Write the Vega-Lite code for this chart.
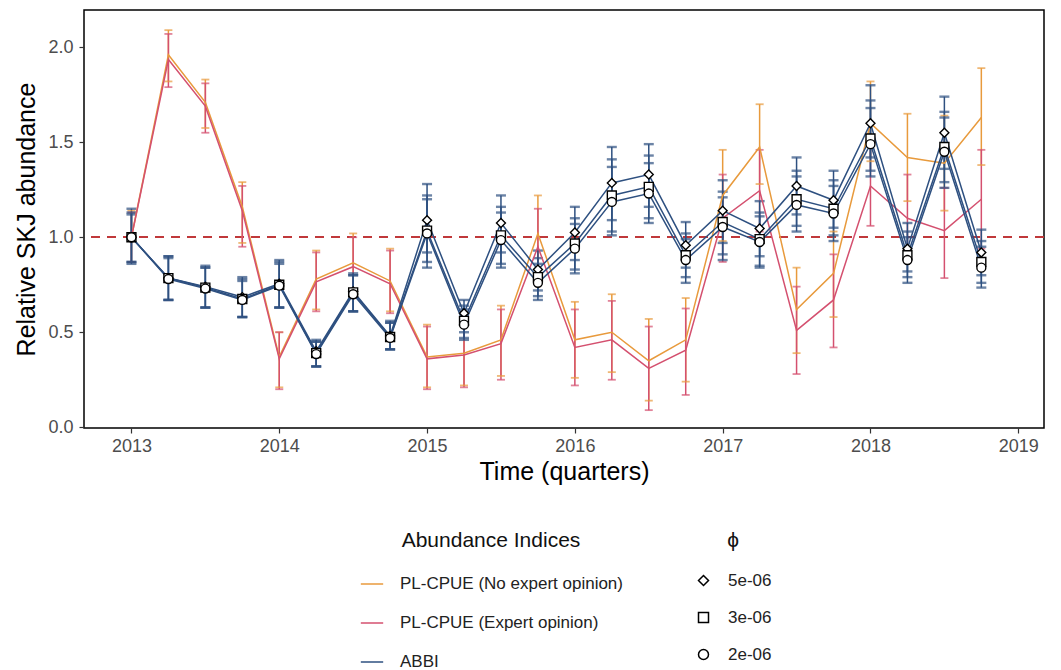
{
  "$schema": "https://vega.github.io/schema/vega-lite/v6.json",
  "width": 960,
  "height": 418,
  "autosize": {"type": "none"},
  "padding": {"left": 84, "top": 10, "right": 17, "bottom": 242},
  "background": "white",
  "config": {
    "font": "Liberation Sans",
    "view": {"stroke": "black", "strokeWidth": 1.5},
    "axis": {"grid": false, "domain": false, "tickColor": "#333333", "tickSize": 5, "tickWidth": 1.2, "labelColor": "#4D4D4D", "labelFontSize": 18, "titleColor": "black", "titleFontSize": 25, "titleFontWeight": "normal", "labelFont": "Liberation Sans", "titleFont": "Liberation Sans"},
    "legend": {"labelFont": "Liberation Sans", "titleFont": "Liberation Sans", "labelFontSize": 17, "titleFontSize": 21, "titleFontWeight": "normal", "labelColor": "#222222", "titleColor": "#111111", "labelLimit": 0}
  },
  "data": {"values": [
    {"t": 2013.0, "s": "PL-CPUE (No expert opinion)", "phi": null, "v": 1.0, "lo": 0.87, "hi": 1.14},
    {"t": 2013.25, "s": "PL-CPUE (No expert opinion)", "phi": null, "v": 1.96, "lo": 1.82, "hi": 2.09},
    {"t": 2013.5, "s": "PL-CPUE (No expert opinion)", "phi": null, "v": 1.71, "lo": 1.575, "hi": 1.83},
    {"t": 2013.75, "s": "PL-CPUE (No expert opinion)", "phi": null, "v": 1.16, "lo": 0.97, "hi": 1.29},
    {"t": 2014.0, "s": "PL-CPUE (No expert opinion)", "phi": null, "v": 0.37, "lo": 0.21, "hi": 0.5},
    {"t": 2014.25, "s": "PL-CPUE (No expert opinion)", "phi": null, "v": 0.78, "lo": 0.62, "hi": 0.93},
    {"t": 2014.5, "s": "PL-CPUE (No expert opinion)", "phi": null, "v": 0.865, "lo": 0.7, "hi": 1.02},
    {"t": 2014.75, "s": "PL-CPUE (No expert opinion)", "phi": null, "v": 0.77, "lo": 0.61, "hi": 0.94},
    {"t": 2015.0, "s": "PL-CPUE (No expert opinion)", "phi": null, "v": 0.37, "lo": 0.21, "hi": 0.54},
    {"t": 2015.25, "s": "PL-CPUE (No expert opinion)", "phi": null, "v": 0.39, "lo": 0.22, "hi": 0.56},
    {"t": 2015.5, "s": "PL-CPUE (No expert opinion)", "phi": null, "v": 0.46, "lo": 0.27, "hi": 0.64},
    {"t": 2015.75, "s": "PL-CPUE (No expert opinion)", "phi": null, "v": 1.02, "lo": 0.8, "hi": 1.22},
    {"t": 2016.0, "s": "PL-CPUE (No expert opinion)", "phi": null, "v": 0.46, "lo": 0.26, "hi": 0.66},
    {"t": 2016.25, "s": "PL-CPUE (No expert opinion)", "phi": null, "v": 0.5, "lo": 0.29, "hi": 0.7},
    {"t": 2016.5, "s": "PL-CPUE (No expert opinion)", "phi": null, "v": 0.35, "lo": 0.14, "hi": 0.57},
    {"t": 2016.75, "s": "PL-CPUE (No expert opinion)", "phi": null, "v": 0.46, "lo": 0.24, "hi": 0.68},
    {"t": 2017.0, "s": "PL-CPUE (No expert opinion)", "phi": null, "v": 1.22, "lo": 0.98, "hi": 1.46},
    {"t": 2017.25, "s": "PL-CPUE (No expert opinion)", "phi": null, "v": 1.475, "lo": 1.28, "hi": 1.7},
    {"t": 2017.5, "s": "PL-CPUE (No expert opinion)", "phi": null, "v": 0.62, "lo": 0.39, "hi": 0.84},
    {"t": 2017.75, "s": "PL-CPUE (No expert opinion)", "phi": null, "v": 0.81, "lo": 0.58, "hi": 1.03},
    {"t": 2018.0, "s": "PL-CPUE (No expert opinion)", "phi": null, "v": 1.6, "lo": 1.4, "hi": 1.82},
    {"t": 2018.25, "s": "PL-CPUE (No expert opinion)", "phi": null, "v": 1.42, "lo": 1.19, "hi": 1.65},
    {"t": 2018.5, "s": "PL-CPUE (No expert opinion)", "phi": null, "v": 1.39, "lo": 1.14, "hi": 1.64},
    {"t": 2018.75, "s": "PL-CPUE (No expert opinion)", "phi": null, "v": 1.63, "lo": 1.38, "hi": 1.89},
    {"t": 2013.0, "s": "PL-CPUE (Expert opinion)", "phi": null, "v": 1.0, "lo": 0.87, "hi": 1.13},
    {"t": 2013.25, "s": "PL-CPUE (Expert opinion)", "phi": null, "v": 1.935, "lo": 1.79, "hi": 2.07},
    {"t": 2013.5, "s": "PL-CPUE (Expert opinion)", "phi": null, "v": 1.69, "lo": 1.55, "hi": 1.81},
    {"t": 2013.75, "s": "PL-CPUE (Expert opinion)", "phi": null, "v": 1.14, "lo": 0.95, "hi": 1.27},
    {"t": 2014.0, "s": "PL-CPUE (Expert opinion)", "phi": null, "v": 0.36, "lo": 0.2, "hi": 0.5},
    {"t": 2014.25, "s": "PL-CPUE (Expert opinion)", "phi": null, "v": 0.765, "lo": 0.61, "hi": 0.92},
    {"t": 2014.5, "s": "PL-CPUE (Expert opinion)", "phi": null, "v": 0.845, "lo": 0.68, "hi": 1.0},
    {"t": 2014.75, "s": "PL-CPUE (Expert opinion)", "phi": null, "v": 0.755, "lo": 0.6, "hi": 0.93},
    {"t": 2015.0, "s": "PL-CPUE (Expert opinion)", "phi": null, "v": 0.36, "lo": 0.2, "hi": 0.53},
    {"t": 2015.25, "s": "PL-CPUE (Expert opinion)", "phi": null, "v": 0.38, "lo": 0.21, "hi": 0.55},
    {"t": 2015.5, "s": "PL-CPUE (Expert opinion)", "phi": null, "v": 0.44, "lo": 0.25, "hi": 0.62},
    {"t": 2015.75, "s": "PL-CPUE (Expert opinion)", "phi": null, "v": 0.95, "lo": 0.75, "hi": 1.15},
    {"t": 2016.0, "s": "PL-CPUE (Expert opinion)", "phi": null, "v": 0.42, "lo": 0.22, "hi": 0.62},
    {"t": 2016.25, "s": "PL-CPUE (Expert opinion)", "phi": null, "v": 0.46, "lo": 0.25, "hi": 0.665},
    {"t": 2016.5, "s": "PL-CPUE (Expert opinion)", "phi": null, "v": 0.31, "lo": 0.09, "hi": 0.53},
    {"t": 2016.75, "s": "PL-CPUE (Expert opinion)", "phi": null, "v": 0.405, "lo": 0.17, "hi": 0.625},
    {"t": 2017.0, "s": "PL-CPUE (Expert opinion)", "phi": null, "v": 1.1, "lo": 0.87, "hi": 1.33},
    {"t": 2017.25, "s": "PL-CPUE (Expert opinion)", "phi": null, "v": 1.245, "lo": 1.03, "hi": 1.46},
    {"t": 2017.5, "s": "PL-CPUE (Expert opinion)", "phi": null, "v": 0.51, "lo": 0.28, "hi": 0.74},
    {"t": 2017.75, "s": "PL-CPUE (Expert opinion)", "phi": null, "v": 0.67, "lo": 0.42, "hi": 0.91},
    {"t": 2018.0, "s": "PL-CPUE (Expert opinion)", "phi": null, "v": 1.27, "lo": 1.06, "hi": 1.49},
    {"t": 2018.25, "s": "PL-CPUE (Expert opinion)", "phi": null, "v": 1.1, "lo": 0.87, "hi": 1.33},
    {"t": 2018.5, "s": "PL-CPUE (Expert opinion)", "phi": null, "v": 1.035, "lo": 0.785, "hi": 1.26},
    {"t": 2018.75, "s": "PL-CPUE (Expert opinion)", "phi": null, "v": 1.2, "lo": 0.94, "hi": 1.46},
    {"t": 2013.0, "s": "ABBI", "phi": "5e-06", "v": 1.0, "lo": 0.86, "hi": 1.15},
    {"t": 2013.25, "s": "ABBI", "phi": "5e-06", "v": 0.785, "lo": 0.67, "hi": 0.9},
    {"t": 2013.5, "s": "ABBI", "phi": "5e-06", "v": 0.74, "lo": 0.63, "hi": 0.85},
    {"t": 2013.75, "s": "ABBI", "phi": "5e-06", "v": 0.685, "lo": 0.58, "hi": 0.79},
    {"t": 2014.0, "s": "ABBI", "phi": "5e-06", "v": 0.755, "lo": 0.63, "hi": 0.88},
    {"t": 2014.25, "s": "ABBI", "phi": "5e-06", "v": 0.4, "lo": 0.32, "hi": 0.46},
    {"t": 2014.5, "s": "ABBI", "phi": "5e-06", "v": 0.715, "lo": 0.61, "hi": 0.81},
    {"t": 2014.75, "s": "ABBI", "phi": "5e-06", "v": 0.48, "lo": 0.41, "hi": 0.56},
    {"t": 2015.0, "s": "ABBI", "phi": "5e-06", "v": 1.09, "lo": 0.92, "hi": 1.28},
    {"t": 2015.25, "s": "ABBI", "phi": "5e-06", "v": 0.6, "lo": 0.5, "hi": 0.67},
    {"t": 2015.5, "s": "ABBI", "phi": "5e-06", "v": 1.075, "lo": 0.92, "hi": 1.22},
    {"t": 2015.75, "s": "ABBI", "phi": "5e-06", "v": 0.83, "lo": 0.72, "hi": 0.93},
    {"t": 2016.0, "s": "ABBI", "phi": "5e-06", "v": 1.025, "lo": 0.88, "hi": 1.16},
    {"t": 2016.25, "s": "ABBI", "phi": "5e-06", "v": 1.286, "lo": 1.09, "hi": 1.475},
    {"t": 2016.5, "s": "ABBI", "phi": "5e-06", "v": 1.33, "lo": 1.16, "hi": 1.49},
    {"t": 2016.75, "s": "ABBI", "phi": "5e-06", "v": 0.958, "lo": 0.84, "hi": 1.08},
    {"t": 2017.0, "s": "ABBI", "phi": "5e-06", "v": 1.14, "lo": 0.97, "hi": 1.3},
    {"t": 2017.25, "s": "ABBI", "phi": "5e-06", "v": 1.046, "lo": 0.9, "hi": 1.19},
    {"t": 2017.5, "s": "ABBI", "phi": "5e-06", "v": 1.27, "lo": 1.12, "hi": 1.42},
    {"t": 2017.75, "s": "ABBI", "phi": "5e-06", "v": 1.195, "lo": 1.05, "hi": 1.35},
    {"t": 2018.0, "s": "ABBI", "phi": "5e-06", "v": 1.6, "lo": 1.42, "hi": 1.8},
    {"t": 2018.25, "s": "ABBI", "phi": "5e-06", "v": 0.94, "lo": 0.82, "hi": 1.075},
    {"t": 2018.5, "s": "ABBI", "phi": "5e-06", "v": 1.55, "lo": 1.36, "hi": 1.74},
    {"t": 2018.75, "s": "ABBI", "phi": "5e-06", "v": 0.92, "lo": 0.8, "hi": 1.04},
    {"t": 2013.0, "s": "ABBI", "phi": "3e-06", "v": 1.0, "lo": 0.87, "hi": 1.13},
    {"t": 2013.25, "s": "ABBI", "phi": "3e-06", "v": 0.785, "lo": 0.67, "hi": 0.9},
    {"t": 2013.5, "s": "ABBI", "phi": "3e-06", "v": 0.735, "lo": 0.63, "hi": 0.84},
    {"t": 2013.75, "s": "ABBI", "phi": "3e-06", "v": 0.675, "lo": 0.58, "hi": 0.78},
    {"t": 2014.0, "s": "ABBI", "phi": "3e-06", "v": 0.75, "lo": 0.63, "hi": 0.87},
    {"t": 2014.25, "s": "ABBI", "phi": "3e-06", "v": 0.39, "lo": 0.32, "hi": 0.45},
    {"t": 2014.5, "s": "ABBI", "phi": "3e-06", "v": 0.71, "lo": 0.61, "hi": 0.8},
    {"t": 2014.75, "s": "ABBI", "phi": "3e-06", "v": 0.475, "lo": 0.41, "hi": 0.55},
    {"t": 2015.0, "s": "ABBI", "phi": "3e-06", "v": 1.035, "lo": 0.87, "hi": 1.22},
    {"t": 2015.25, "s": "ABBI", "phi": "3e-06", "v": 0.56, "lo": 0.47, "hi": 0.64},
    {"t": 2015.5, "s": "ABBI", "phi": "3e-06", "v": 1.01, "lo": 0.86, "hi": 1.16},
    {"t": 2015.75, "s": "ABBI", "phi": "3e-06", "v": 0.79, "lo": 0.69, "hi": 0.89},
    {"t": 2016.0, "s": "ABBI", "phi": "3e-06", "v": 0.967, "lo": 0.83, "hi": 1.1},
    {"t": 2016.25, "s": "ABBI", "phi": "3e-06", "v": 1.22, "lo": 1.03, "hi": 1.41},
    {"t": 2016.5, "s": "ABBI", "phi": "3e-06", "v": 1.265, "lo": 1.1, "hi": 1.43},
    {"t": 2016.75, "s": "ABBI", "phi": "3e-06", "v": 0.905, "lo": 0.79, "hi": 1.02},
    {"t": 2017.0, "s": "ABBI", "phi": "3e-06", "v": 1.08, "lo": 0.91, "hi": 1.24},
    {"t": 2017.25, "s": "ABBI", "phi": "3e-06", "v": 0.99, "lo": 0.85, "hi": 1.13},
    {"t": 2017.5, "s": "ABBI", "phi": "3e-06", "v": 1.2, "lo": 1.06, "hi": 1.35},
    {"t": 2017.75, "s": "ABBI", "phi": "3e-06", "v": 1.15, "lo": 1.01, "hi": 1.3},
    {"t": 2018.0, "s": "ABBI", "phi": "3e-06", "v": 1.52, "lo": 1.35, "hi": 1.72},
    {"t": 2018.25, "s": "ABBI", "phi": "3e-06", "v": 0.905, "lo": 0.79, "hi": 1.03},
    {"t": 2018.5, "s": "ABBI", "phi": "3e-06", "v": 1.475, "lo": 1.29, "hi": 1.66},
    {"t": 2018.75, "s": "ABBI", "phi": "3e-06", "v": 0.87, "lo": 0.76, "hi": 0.98},
    {"t": 2013.0, "s": "ABBI", "phi": "2e-06", "v": 1.0, "lo": 0.87, "hi": 1.12},
    {"t": 2013.25, "s": "ABBI", "phi": "2e-06", "v": 0.78, "lo": 0.67, "hi": 0.89},
    {"t": 2013.5, "s": "ABBI", "phi": "2e-06", "v": 0.73, "lo": 0.63, "hi": 0.84},
    {"t": 2013.75, "s": "ABBI", "phi": "2e-06", "v": 0.67, "lo": 0.58, "hi": 0.77},
    {"t": 2014.0, "s": "ABBI", "phi": "2e-06", "v": 0.745, "lo": 0.63, "hi": 0.86},
    {"t": 2014.25, "s": "ABBI", "phi": "2e-06", "v": 0.385, "lo": 0.32, "hi": 0.45},
    {"t": 2014.5, "s": "ABBI", "phi": "2e-06", "v": 0.7, "lo": 0.61, "hi": 0.8},
    {"t": 2014.75, "s": "ABBI", "phi": "2e-06", "v": 0.47, "lo": 0.41, "hi": 0.55},
    {"t": 2015.0, "s": "ABBI", "phi": "2e-06", "v": 1.02, "lo": 0.84, "hi": 1.2},
    {"t": 2015.25, "s": "ABBI", "phi": "2e-06", "v": 0.54, "lo": 0.46, "hi": 0.62},
    {"t": 2015.5, "s": "ABBI", "phi": "2e-06", "v": 0.985, "lo": 0.84, "hi": 1.13},
    {"t": 2015.75, "s": "ABBI", "phi": "2e-06", "v": 0.76, "lo": 0.67, "hi": 0.86},
    {"t": 2016.0, "s": "ABBI", "phi": "2e-06", "v": 0.94, "lo": 0.81, "hi": 1.07},
    {"t": 2016.25, "s": "ABBI", "phi": "2e-06", "v": 1.186, "lo": 1.01, "hi": 1.37},
    {"t": 2016.5, "s": "ABBI", "phi": "2e-06", "v": 1.23, "lo": 1.075, "hi": 1.39},
    {"t": 2016.75, "s": "ABBI", "phi": "2e-06", "v": 0.88, "lo": 0.76, "hi": 0.99},
    {"t": 2017.0, "s": "ABBI", "phi": "2e-06", "v": 1.054, "lo": 0.88, "hi": 1.21},
    {"t": 2017.25, "s": "ABBI", "phi": "2e-06", "v": 0.975, "lo": 0.84, "hi": 1.11},
    {"t": 2017.5, "s": "ABBI", "phi": "2e-06", "v": 1.17, "lo": 1.03, "hi": 1.32},
    {"t": 2017.75, "s": "ABBI", "phi": "2e-06", "v": 1.125, "lo": 0.98, "hi": 1.27},
    {"t": 2018.0, "s": "ABBI", "phi": "2e-06", "v": 1.49, "lo": 1.32, "hi": 1.68},
    {"t": 2018.25, "s": "ABBI", "phi": "2e-06", "v": 0.88, "lo": 0.76, "hi": 1.0},
    {"t": 2018.5, "s": "ABBI", "phi": "2e-06", "v": 1.45, "lo": 1.26, "hi": 1.63},
    {"t": 2018.75, "s": "ABBI", "phi": "2e-06", "v": 0.84, "lo": 0.735, "hi": 0.95}
  ]},
  "encoding": {
    "x": {"field": "t", "type": "quantitative", "scale": {"domain": [2012.679, 2019.174], "nice": false, "zero": false}, "axis": {"values": [2013, 2014, 2015, 2016, 2017, 2018, 2019], "format": "d", "title": "Time (quarters)", "labelPadding": 4, "titlePadding": 4}}
  },
  "layer": [
    {
      "mark": {"type": "rule", "color": "#C0393B", "strokeDash": [9, 7], "strokeWidth": 1.6},
      "encoding": {"y": {"datum": 1, "type": "quantitative", "scale": {"domain": [-0.004, 2.196], "nice": false, "zero": false}, "axis": {"values": [0, 0.5, 1, 1.5, 2], "format": ".1f", "title": "Relative SKJ abundance", "labelPadding": 6, "titlePadding": 8}}, "x": null}
    },
    {
      "mark": {"type": "rule"},
      "encoding": {
        "y": {"field": "lo", "type": "quantitative"},
        "y2": {"field": "hi"},
        "color": {"field": "s", "type": "nominal", "scale": {"domain": ["PL-CPUE (No expert opinion)", "PL-CPUE (Expert opinion)", "ABBI"], "range": ["#E89A3C", "#D4506F", "#2E5080"]}, "legend": {"title": "Abundance Indices", "orient": "none", "legendX": 276, "legendY": 520, "titleAnchor": "middle", "titlePadding": 21, "rowPadding": 19, "symbolType": "stroke", "symbolSize": 500, "symbolStrokeWidth": 2, "labelOffset": 16, "labelLimit": 0, "direction": "vertical", "encode": {"symbols": {"update": {"size": {"value": 500}, "strokeWidth": {"value": 2}}}}}},
        "strokeWidth": {"field": "s", "type": "nominal", "scale": {"domain": ["PL-CPUE (No expert opinion)", "PL-CPUE (Expert opinion)", "ABBI"], "range": [1.5, 1.5, 2.5]}, "legend": null}
      }
    },
    {
      "transform": [{"filter": "datum.s != 'ABBI'"}],
      "mark": {"type": "tick", "orient": "horizontal", "thickness": 1.8, "size": 8},
      "encoding": {"y": {"field": "lo", "type": "quantitative"}, "color": {"field": "s", "type": "nominal"}}
    },
    {
      "transform": [{"filter": "datum.s != 'ABBI'"}],
      "mark": {"type": "tick", "orient": "horizontal", "thickness": 1.8, "size": 8},
      "encoding": {"y": {"field": "hi", "type": "quantitative"}, "color": {"field": "s", "type": "nominal"}}
    },
    {
      "transform": [{"filter": "datum.s == 'ABBI'"}],
      "mark": {"type": "tick", "orient": "horizontal", "thickness": 2.4, "size": 10},
      "encoding": {"y": {"field": "lo", "type": "quantitative"}, "color": {"field": "s", "type": "nominal"}}
    },
    {
      "transform": [{"filter": "datum.s == 'ABBI'"}],
      "mark": {"type": "tick", "orient": "horizontal", "thickness": 2.4, "size": 10},
      "encoding": {"y": {"field": "hi", "type": "quantitative"}, "color": {"field": "s", "type": "nominal"}}
    },
    {
      "mark": {"type": "line"},
      "encoding": {
        "y": {"field": "v", "type": "quantitative"},
        "color": {"field": "s", "type": "nominal"},
        "detail": {"field": "phi", "type": "nominal"},
        "strokeWidth": {"field": "s", "type": "nominal", "scale": {"domain": ["PL-CPUE (No expert opinion)", "PL-CPUE (Expert opinion)", "ABBI"], "range": [1.6, 1.6, 2.8]}, "legend": null}
      }
    },
    {
      "transform": [{"filter": "datum.phi != null"}],
      "mark": {"type": "point", "filled": true, "fill": "white", "stroke": "black", "strokeWidth": 1.4, "opacity": 1, "size": 80},
      "encoding": {
        "y": {"field": "v", "type": "quantitative"},
        "shape": {"field": "phi", "type": "nominal", "scale": {"domain": ["5e-06", "3e-06", "2e-06"], "range": ["diamond", "square", "circle"]}, "legend": {"title": "ϕ", "orient": "none", "legendX": 611, "legendY": 520, "titleAnchor": "middle", "titlePadding": 21, "rowPadding": 19, "labelOffset": 16, "direction": "vertical", "encode": {"symbols": {"update": {"fill": {"value": "white"}, "stroke": {"value": "black"}, "strokeWidth": {"value": 1.5}, "size": {"value": 60}, "opacity": {"value": 1}, "fillOpacity": {"value": 1}, "strokeOpacity": {"value": 1}}}}}}
      }
    }
  ]
}
